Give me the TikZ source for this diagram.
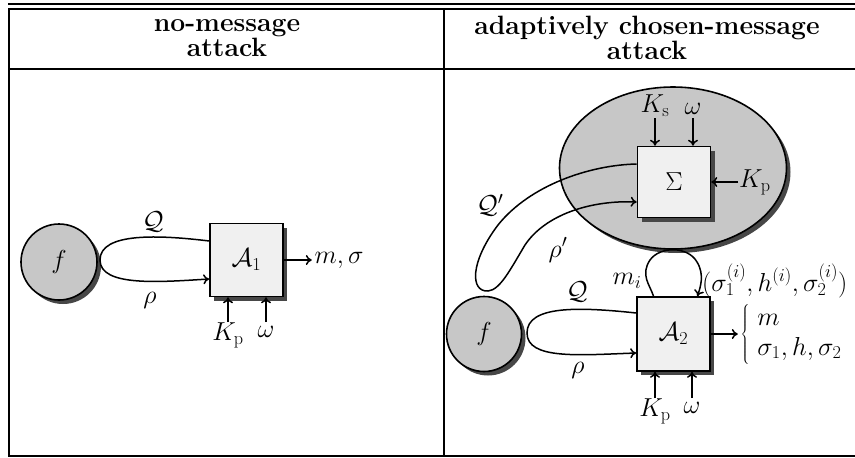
\RequirePackage{fix-cm}
\documentclass[tikz,border=0pt]{standalone}
\usetikzlibrary{shapes.geometric,shadows,arrows.meta,calc}
\definecolor{dgray}{gray}{0.78}
\definecolor{lgray}{gray}{0.94}
\definecolor{shd}{gray}{0.28}
\begin{document}
\begin{tikzpicture}[x=1pt,y=-1pt,
  font=\fontsize{26}{30}\selectfont,
  >={Computer Modern Rightarrow[length=6pt,width=10pt]},
  rule/.style={line width=2pt},
  conn/.style={line width=1.5pt},
  sh/.style={drop shadow={shadow xshift=4pt,shadow yshift=-4pt,fill=shd,opacity=1}},
  fcirc/.style={circle,draw,line width=1.6pt,fill=dgray,minimum size=76pt,inner sep=0pt,sh},
  box/.style={rectangle,draw,line width=1.6pt,fill=lgray,minimum width=73pt,minimum height=73pt,inner sep=0pt,sh},
  head/.style={align=center,font=\fontsize{26.5}{25}\selectfont\bfseries}]
\useasboundingbox (0,0) rectangle (855,458);
% table rules
\draw[rule] (8,3.5) -- (855,3.5);
\draw[rule] (8,8.5) -- (855,8.5);
\draw[rule] (8.5,8.5) -- (8.5,456);
\draw[rule] (444,8.5) -- (444,456);
\draw[rule] (8,69) -- (855,69);
\draw[rule] (8,455.5) -- (855,455.5);
\node[head] (h1) at (227,38) {no-message\\attack};
\node[head] (h2) at (647,38) {adaptively chosen-message\\attack};
% left panel
\node[fcirc] (f1) at (59,262) {$f$};
\node[box] (A1) at (246.5,260) {$\mathcal{A}_1$};
\draw[conn,->] (A1.east) -- ++(28,0) node[right,inner sep=2pt] (out1) {$m,\sigma$};
\draw[conn,->] ([yshift=19pt]A1.west) .. controls (160,235) and (100,232) .. (100,260)
   .. controls (100,287) and (160,282) .. ([yshift=-19pt]A1.west);
\node (q1) at (153,222) {$\mathcal{Q}$};
\node (r1) at (150,300) {$\rho$};
\coordinate (t1) at (228,322);
\coordinate (t2) at (266,322);
\draw[conn,->] (t1) -- (t1 |- A1.south);
\draw[conn,->] (t2) -- (t2 |- A1.south);
\node[anchor=north,inner sep=1pt] (kp1) at (t1) {$K_{\rm p}$};
\node[anchor=north,inner sep=4pt] (w1) at (t2) {$\omega$};
% right panel
\node[ellipse,draw,line width=1.6pt,fill=dgray,minimum width=227pt,minimum height=162pt,sh] (E) at (673,168) {};
\node[box,minimum height=71pt] (S) at (674,182) {$\Sigma$};
\coordinate (s1) at (655,118);
\coordinate (s2) at (693,118);
\draw[conn,->] (s1) -- (s1 |- S.north);
\draw[conn,->] (s2) -- (s2 |- S.north);
\node[anchor=south,inner sep=1pt] (ks) at (s1) {$K_{\rm s}$};
\node[anchor=south,inner sep=3pt] (w2) at (s2) {$\omega$};
\coordinate (s3) at (738,182);
\draw[conn,->] (s3) -- (S.east);
\node[anchor=west,inner sep=1pt] (kp2) at (s3) {$K_{\rm p}$};
\node[box,minimum height=74pt] (A2) at (673.5,334) {$\mathcal{A}_2$};
\node[fcirc,minimum size=75pt] (f2) at (484,334) {$f$};
\draw[conn,->] ([yshift=18pt]S.west) .. controls (590,165) and (530,185) .. (498,225)
   .. controls (470,262) and (470,292) .. (488,291)
   .. controls (500,290) and (510,270) .. (525,245)
   .. controls (545,215) and (590,200) .. ([yshift=-20pt]S.west);
\node (qp) at (490,205) {$\mathcal{Q}'$};
\node (rp) at (558,250) {$\rho'$};
\draw[conn,->] ([xshift=-20pt]A2.north) .. controls (650,285) and (640,275) .. (650,260)
   .. controls (660,246) and (688,246) .. (697,262)
   .. controls (705,275) and (700,288) .. ([xshift=24pt]A2.north);
\node (mi) at (627,281) {$m_i$};
\node[anchor=west,inner sep=0pt] (sig) at (702,281) {$(\sigma_1^{(i)},h^{(i)},\sigma_2^{(i)})$};
\draw[conn,->] ([yshift=21pt]A2.west) .. controls (580,307) and (527,305) .. (527,333)
   .. controls (527,360) and (580,355) .. ([yshift=-19pt]A2.west);
\node (q2) at (577,292) {$\mathcal{Q}$};
\node (r2) at (578,370) {$\rho$};
\draw[conn,->] (A2.east) -- ++(27,0) node[right,inner sep=2pt] (out2)
  {$\left\{\hspace{8pt}\begin{array}{@{}l@{}}m\\ \sigma_1,h,\sigma_2\end{array}\right.$};
\coordinate (u1) at (655,398);
\coordinate (u2) at (692,398);
\draw[conn,->] (u1) -- (u1 |- A2.south);
\draw[conn,->] (u2) -- (u2 |- A2.south);
\node[anchor=north,inner sep=1pt] (kp3) at (u1) {$K_{\rm p}$};
\node[anchor=north,inner sep=4pt] (w3) at (u2) {$\omega$};
\end{tikzpicture}
\end{document}
